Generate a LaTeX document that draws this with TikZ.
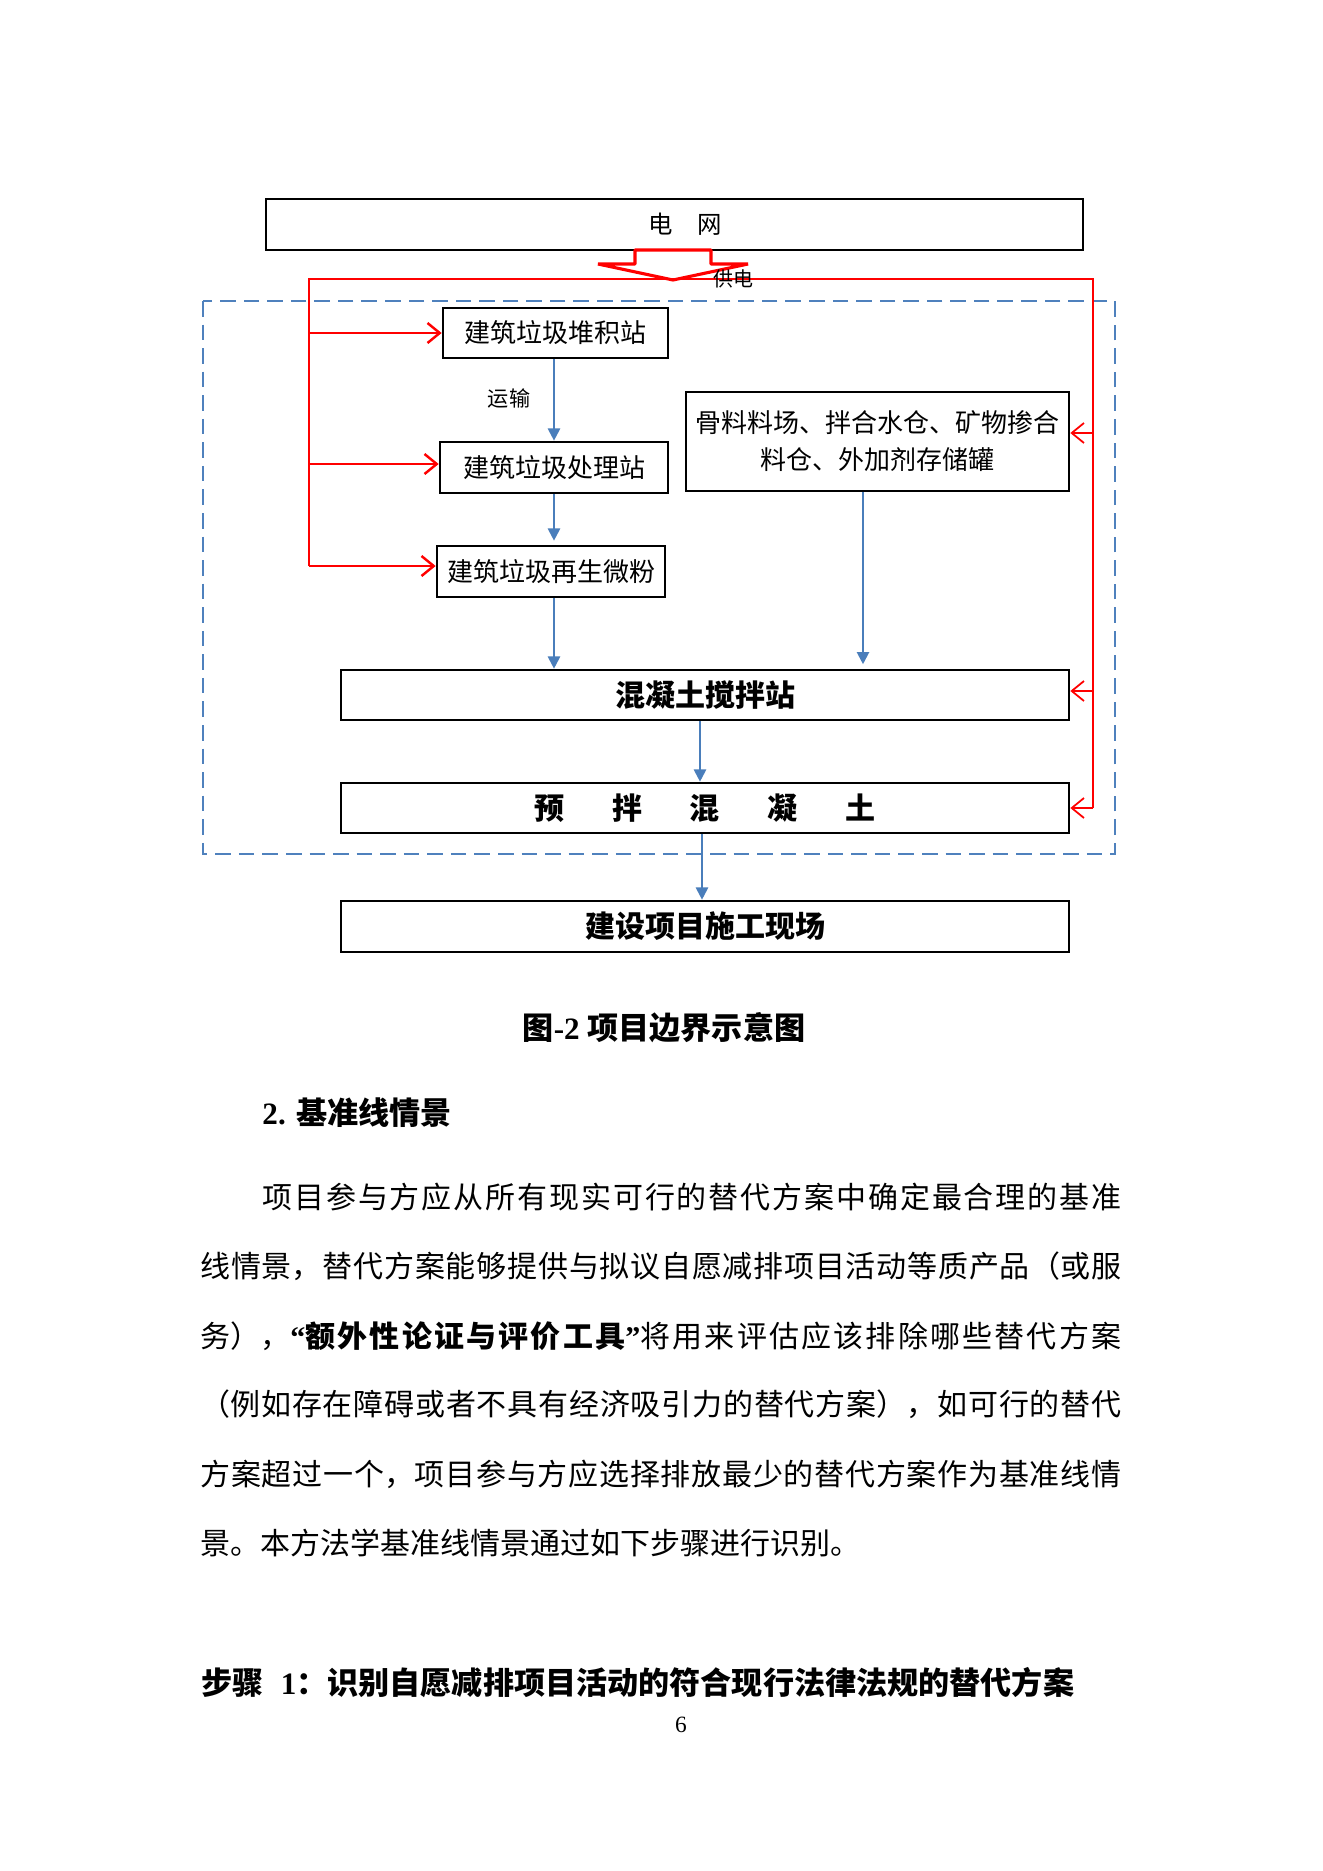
\documentclass[tikz,border=0pt]{standalone}
\usepackage{fontspec}
\setmainfont{Liberation Serif}
\newfontfamily\cjk{Noto Sans CJK SC}
\usetikzlibrary{arrows.meta,calc}
\XeTeXlinebreaklocale "zh"
\XeTeXlinebreakskip=0pt plus 4pt\relax
\definecolor{lineblue}{RGB}{74,126,187}
\definecolor{dashblue}{RGB}{79,129,189}
\newcommand{\fullline}[1]{\parfillskip=0pt\relax #1\par}
\tikzset{
  box/.style={draw=black, line width=1.2pt, fill=white, inner sep=0pt, align=center, font=\cjk\fontsize{11.7}{16.7}\selectfont},
  bigbox/.style={box, font=\cjk\bfseries\fontsize{13.5}{16}\selectfont},
  flow/.style={draw=lineblue, line width=0.9pt, -{Triangle[length=5.5pt,width=5.5pt]}},
  feed/.style={draw=red, line width=1.1pt, -{Straight Barb[length=5.5pt,width=9pt]}},
  feedr/.style={draw=red, line width=0.8pt, -{Straight Barb[length=5.5pt,width=9pt]}},
  feedthin/.style={draw=red, line width=0.6pt},
  lbl/.style={inner sep=0pt, font=\cjk\fontsize{9.5}{11}\selectfont},
  body/.style={anchor=west, inner sep=0pt, font=\cjk\fontsize{13.5}{31}\selectfont},
  bodyline/.style={body, align=justify},
  headtxt/.style={inner sep=0pt, font=\bfseries\fontsize{14}{16}\selectfont},
}
\begin{document}
\begin{tikzpicture}[x=0.45pt,y=-0.45pt]
\useasboundingbox (0,0) rectangle (1323,1871);
\fill[white] (0,0) rectangle (1323,1871);
% system boundary
\draw[dashblue, line width=0.9pt, dash pattern=on 7pt off 3.6pt] (203,301) rectangle (1115,854);
% boxes
\node[box, minimum width=367.65pt, minimum height=22.95pt, font=\cjk\fontsize{11}{13}\selectfont] (grid) at (674.5,224.5) {\hspace*{10pt}电\hspace{1em}网};
\node[box, minimum width=101.25pt, minimum height=22.5pt] (dui) at (555.5,333) {建筑垃圾堆积站};
\node[box, minimum width=102.6pt, minimum height=22.95pt] (chu) at (554,467.5) {建筑垃圾处理站};
\node[box, minimum width=102.6pt, minimum height=22.95pt] (wei) at (551,571.5) {建筑垃圾再生微粉};
\node[box, minimum width=172.35pt, minimum height=44.55pt] (gu) at (877.5,441.5) {骨料料场、拌合水仓、矿物掺合\\料仓、外加剂存储罐};
\node[bigbox, minimum width=327.6pt, minimum height=22.5pt] (mix) at (705,695) {混凝土搅拌站};
\node[bigbox, minimum width=327.6pt, minimum height=22.5pt] (pre) at (705,808) {预\hspace{21.5pt}拌\hspace{21.5pt}混\hspace{21.5pt}凝\hspace{21.5pt}土};
\node[bigbox, minimum width=327.6pt, minimum height=22.95pt] (site) at (705,926.5) {建设项目施工现场};
% power supply block arrow
\draw[red, line width=1.4pt, fill=white, line join=bevel] (635,250) -- (635,264) -- (598,264) -- (673,280) -- (748,264) -- (711,264) -- (711,250) -- cycle;
% red supply lines
\coordinate (lt) at (309,279);
\coordinate (rt) at (1093,279);
\coordinate (l1) at (309,333);
\coordinate (l2) at (309,464);
\coordinate (l3) at (309,566);
\coordinate (r1) at (1093,433);
\coordinate (r2) at (1093,691);
\coordinate (r3) at (1093,808);
\draw[feedthin] (l3) -- (lt) -- (rt) -- (r3);
\draw[feed] (l1) -- (l1 -| dui.west);
\draw[feed] (l2) -- (l2 -| chu.west);
\draw[feed] (l3) -- (l3 -| wei.west);
\draw[feedr] (r1) -- (r1 -| gu.east);
\draw[feedr] (r2) -- (r2 -| mix.east);
\draw[feedr] (r3) -- (r3 -| pre.east);
\node[lbl, font=\cjk\fontsize{9}{10}\selectfont] (gd) at (733,279) {供电};
% material flows
\draw[flow] ($(dui.south)+(-1.5,0)$) -- ($(dui.south |- chu.north)+(-1.5,0)$);
\node[lbl] (ys) at (509,398) {运输};
\draw[flow, shorten >=1.8pt] (chu.south) -- (chu.south |- wei.north);
\draw[flow] ($(wei.south)+(3,0)$) -- ($(wei.south |- mix.north)+(3,0)$);
\draw[flow, shorten >=2pt] ($(gu.south)+(-14.5,0)$) -- ($(gu.south |- mix.north)+(-14.5,0)$);
\draw[flow] ($(mix.south)+(-5,0)$) -- ($(mix.south |- pre.north)+(-5,0)$);
\draw[flow] ($(pre.south)+(-3,0)$) -- ($(pre.south |- site.north)+(-3,0)$);
% caption and text
\node[headtxt] (cap) at (664,1028) {{\cjk 图}-2 {\cjk 项目边界示意图}};
\node[headtxt, anchor=west] (h2) at (262,1113) {2. {\cjk 基准线情景}};
\node[bodyline, text width=386.55pt] (p1) at (262,1197) {\fullline{项目参与方应从所有现实可行的替代方案中确定最合理的基准}};
\node[bodyline, text width=414.45pt] (p2) at (200,1266) {\fullline{线情景，替代方案能够提供与拟议自愿减排项目活动等质产品（或服}};
\node[bodyline, text width=414.45pt] (p3) at (200,1336) {\fullline{务），{\bfseries{\rmfamily “}额外性论证与评价工具{\rmfamily ”}}将用来评估应该排除哪些替代方案}};
\node[bodyline, text width=414.45pt] (p4) at (200,1404) {\fullline{（例如存在障碍或者不具有经济吸引力的替代方案），如可行的替代}};
\node[bodyline, text width=414.45pt] (p5) at (200,1474) {\fullline{方案超过一个，项目参与方应选择排放最少的替代方案作为基准线情}};
\node[body] (p6) at (200,1543) {景。本方法学基准线情景通过如下步骤进行识别。};
\node[headtxt, anchor=west] (s1) at (201,1683) {{\cjk 步骤}\hspace{0.3em} 1{\cjk ：识别自愿减排项目活动的符合现行法律法规的替代方案}};
\node[inner sep=0pt, font=\fontsize{10.5}{12}\selectfont] (pg) at (681,1725) {6};
\end{tikzpicture}
\end{document}
